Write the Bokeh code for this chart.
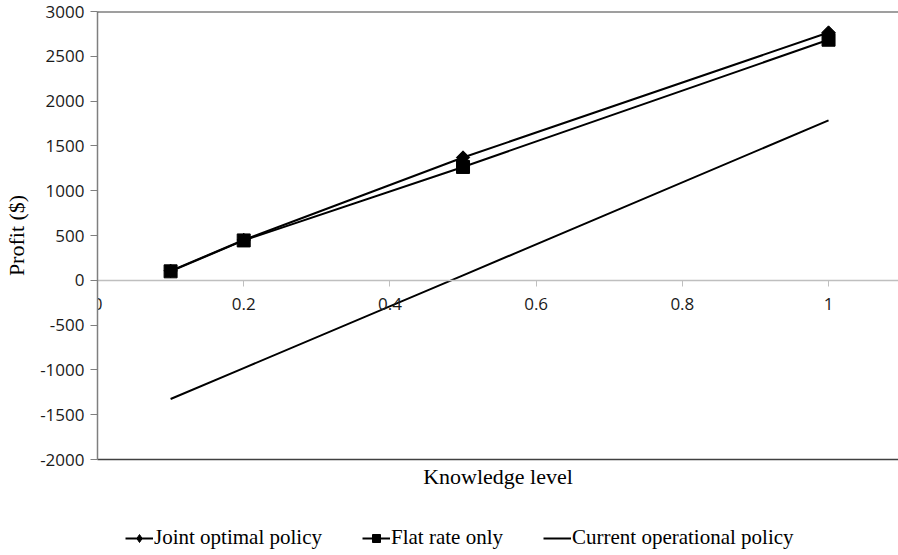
import math

from bokeh.plotting import figure
from bokeh.layouts import column
from bokeh.models import (Range1d, FixedTicker, LinearAxis, NumeralTickFormatter,
                          Legend, LegendItem, Span)
from bokeh.embed import file_html
from bokeh.resources import INLINE

# Profit by knowledge level for three pricing policies
knowledge = [0.1, 0.2, 0.5, 1.0]
joint_optimal = [105, 450, 1370, 2765]
flat_rate = [100, 445, 1265, 2685]
current_policy = [-1325, -980, 55, 1785]

series_names = ["Joint optimal policy", "Flat rate only", "Current operational policy"]

x_ticks = [0, 0.2, 0.4, 0.6, 0.8, 1.0]
y_ticks = [-2000, -1500, -1000, -500, 0, 500, 1000, 1500, 2000, 2500, 3000]

SANS = "Open Sans"
SERIF = "Liberation Serif"

p = figure(width=898, height=510, output_backend="svg", toolbar_location=None,
           x_range=Range1d(0, 1.0957), y_range=Range1d(-2000, 3000),
           x_axis_location=None, y_axis_location="left",
           min_border_left=97, min_border_right=0, min_border_top=11,
           min_border_bottom=51)
p.xgrid.visible = False
p.ygrid.visible = False
p.outline_line_color = None
p.background_fill_color = "white"
p.border_fill_color = "white"

# value axis
ya = p.yaxis[0]
ya.ticker = FixedTicker(ticks=y_ticks)
ya.formatter = NumeralTickFormatter(format="0")
ya.axis_line_color = "#7f7f7f"
ya.axis_line_width = 1.5
ya.major_tick_line_color = "#7f7f7f"
ya.major_tick_out = 7
ya.major_tick_in = 0
ya.minor_tick_line_color = None
ya.major_label_text_font = SANS
ya.major_label_text_font_size = "17px"
ya.major_label_text_color = "#1a1a1a"
ya.major_label_standoff = 6
ya.axis_label = "Profit ($)"
ya.axis_label_text_font = SERIF
ya.axis_label_text_font_size = "22px"
ya.axis_label_text_font_style = "normal"
ya.axis_label_text_color = "black"
ya.axis_label_standoff = 8

# bottom border carrying the axis title
xb = LinearAxis(ticker=FixedTicker(ticks=[]), axis_label="Knowledge level",
                axis_line_color="#404040", axis_line_width=1.5,
                major_tick_line_color=None, minor_tick_line_color=None,
                major_label_standoff=0, axis_label_standoff=4,
                axis_label_text_font=SERIF, axis_label_text_font_size="22px",
                axis_label_text_font_style="normal", axis_label_text_color="black")
p.add_layout(xb, "below")

# knowledge-level axis crossing at zero profit
xa = LinearAxis(fixed_location=0, ticker=FixedTicker(ticks=x_ticks),
                formatter=NumeralTickFormatter(format="0.[0]"),
                axis_line_color="#bfbfbf", axis_line_width=1.5,
                major_tick_line_color="#bfbfbf", major_tick_out=6, major_tick_in=0,
                minor_tick_line_color=None,
                major_label_text_font=SANS, major_label_text_font_size="17px",
                major_label_text_color="#1a1a1a", major_label_standoff=12)
p.add_layout(xa, "below")

# top border of the plot area
p.add_layout(Span(location=3000, dimension="width", line_color="#404040",
                  line_width=2))

# series
p.line(knowledge, current_policy, line_color="black", line_width=2)
p.line(knowledge, joint_optimal, line_color="black", line_width=2)
p.scatter(knowledge, joint_optimal, marker="square", angle=math.pi / 4,
          size=9.5, color="black")
p.line(knowledge, flat_rate, line_color="black", line_width=2)
p.scatter(knowledge, flat_rate, marker="square", size=13, color="black")

# legend strip under the chart; its view window lies away from the data,
# so only the key glyphs are drawn
k = figure(width=898, height=45, output_backend="svg", toolbar_location=None,
           x_range=Range1d(0, 1), y_range=Range1d(90000, 90001),
           x_axis_location=None, y_axis_location=None,
           min_border_left=0, min_border_right=0, min_border_top=0,
           min_border_bottom=0)
k.xgrid.visible = False
k.ygrid.visible = False
k.outline_line_color = None
k_j_line = k.line(knowledge, joint_optimal, line_color="black", line_width=2)
k_j_pts = k.scatter(knowledge, joint_optimal, marker="diamond", size=13,
                    color="black")
k_f_line = k.line(knowledge, flat_rate, line_color="black", line_width=2)
k_f_pts = k.scatter(knowledge, flat_rate, marker="square", size=11, color="black")
k_c_line = k.line(knowledge, current_policy, line_color="black", line_width=2)

legend = Legend(items=[
    LegendItem(label=series_names[0], renderers=[k_j_line, k_j_pts]),
    LegendItem(label=series_names[1], renderers=[k_f_line, k_f_pts]),
    LegendItem(label=series_names[2], renderers=[k_c_line]),
], location=(28, 5), orientation="horizontal",
    glyph_width=28, glyph_height=20, label_standoff=1, spacing=40,
    padding=0, margin=0, border_line_color=None, background_fill_alpha=0,
    label_text_font=SERIF, label_text_font_size="21px", label_text_color="black")
k.add_layout(legend)

page = column(p, k, spacing=0)
open("out.html", "w").write(file_html(page, INLINE))
